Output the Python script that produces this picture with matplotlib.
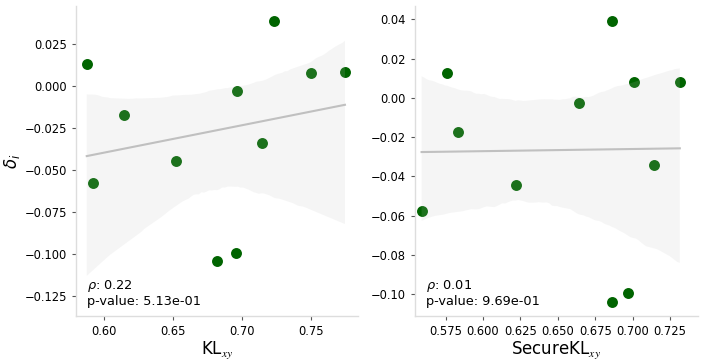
import numpy as np
import matplotlib
matplotlib.use("Agg")
import matplotlib.pyplot as plt
import seaborn as sns

plt.rcParams["mathtext.fontset"] = "custom"
plt.rcParams["mathtext.rm"] = "DejaVu Sans"
plt.rcParams["mathtext.it"] = "DejaVu Sans:italic"
plt.rcParams["mathtext.bf"] = "DejaVu Sans:bold"
plt.rcParams["mathtext.sf"] = "DejaVu Sans"
plt.rcParams["mathtext.cal"] = "STIXGeneral:italic"

# delta_i values (shared by both panels)
delta = [0.0129, -0.0173, -0.0446, -0.0028, 0.0389, -0.0341, 0.0079, 0.0083, -0.0576, -0.1042, -0.0992]
kl_xy = [0.5875, 0.6143, 0.6522, 0.6962, 0.7232, 0.7140, 0.7500, 0.7744, 0.5923, 0.6821, 0.6957]
secure_kl_xy = [0.5761, 0.5834, 0.6220, 0.6640, 0.6859, 0.7144, 0.7006, 0.7315, 0.5590, 0.6859, 0.6966]

panels = [
    (kl_xy, r"KL$_{\mathcal{xy}}$", "0.22", "5.13e-01"),
    (secure_kl_xy, r"SecureKL$_{\mathcal{xy}}$", "0.01", "9.69e-01"),
]

fig = plt.figure(figsize=(7.06, 3.62), dpi=100)
axes = [fig.add_axes([0.1076, 0.127, 0.3994, 0.856]),
        fig.add_axes([0.5878, 0.127, 0.4008, 0.856])]

for ax, (xv, xlabel, rho, pval) in zip(axes, panels):
    sns.regplot(x=np.array(xv), y=np.array(delta), ax=ax, seed=0,
                scatter_kws=dict(color="darkgreen", s=62, alpha=1, linewidths=0),
                line_kws=dict(color="silver", lw=1.5))
    ax.set_xlabel(xlabel, fontsize=12, labelpad=1)
    ax.text(0.04, 0.025, r"$\rho$: " + rho + "\np-value: " + pval,
            transform=ax.transAxes, fontsize=9.3, ha="left", va="bottom",
            linespacing=1.1)
    for s in ["top", "right"]:
        ax.spines[s].set_visible(False)
    for s in ["left", "bottom"]:
        ax.spines[s].set_color("#dddddd")
        ax.spines[s].set_linewidth(1.0)
    ax.tick_params(axis="both", labelsize=8.3, length=3, width=0.8, color="#555555")
    ax.set_ylabel("")

axes[0].set_ylabel(r"$\delta_i$", fontsize=12, labelpad=2)
axes[0].set_yticks([-0.125, -0.100, -0.075, -0.050, -0.025, 0.000, 0.025])
axes[0].set_xticks([0.60, 0.65, 0.70, 0.75])
axes[0].set_xlim(0.5797, 0.7838)
axes[0].set_ylim(-0.1369, 0.0476)
axes[1].set_yticks([-0.10, -0.08, -0.06, -0.04, -0.02, 0.00, 0.02, 0.04])
axes[1].set_xticks([0.575, 0.600, 0.625, 0.650, 0.675, 0.700, 0.725])
axes[1].set_xlim(0.5546, 0.7436)
axes[1].set_ylim(-0.1111, 0.0467)

fig.savefig("out.png", dpi=100)
